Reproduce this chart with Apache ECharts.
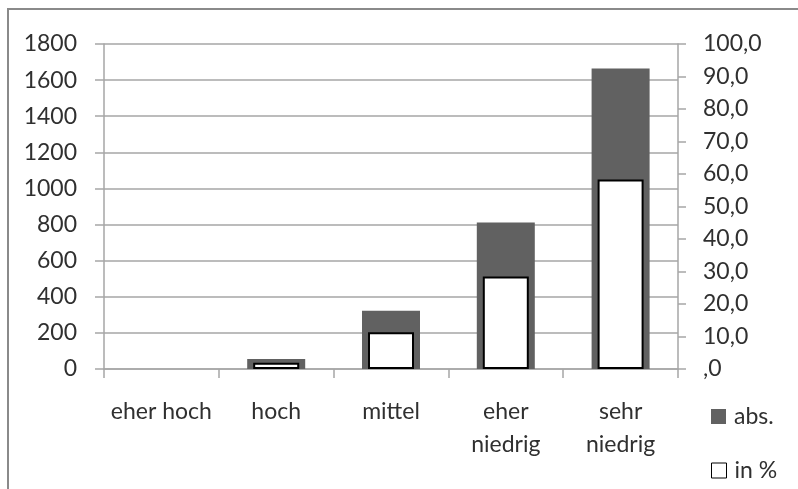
<!DOCTYPE html>
<html>
<head>
<meta charset="utf-8">
<script src="https://cdn.jsdelivr.net/npm/echarts@6/dist/echarts.min.js"></script>
<style>
  html, body { margin: 0; padding: 0; background: #ffffff; }
  #chart { width: 798px; height: 489px; }
</style>
</head>
<body>
<div id="chart"></div>
<script>
// Categories on the x axis
const categories = ['eher hoch', 'hoch', 'mittel', 'eher\nniedrig', 'sehr\nniedrig'];
// Absolute counts (left axis)
const absValues = [0, 55, 323, 812, 1665];
// Share in percent (right axis)
const pctValues = [0, 1.9, 11.3, 28.5, 58.3];
// Series names shown in the legend
const seriesNames = ['abs.', 'in %'];

const FONT = 'Lato';
const FS = 23;
const TEXT = '#303030';
const GRID = '#a6a6a6';

const chart = echarts.init(document.getElementById('chart'), null, { renderer: 'canvas' });

// one legend box per entry, stacked in the right margin
function legendBox(name, top, itemStyle) {
  return {
    orient: 'vertical',
    left: 711,
    top: top,
    padding: 0,
    itemWidth: 15,
    itemHeight: 15,
    icon: 'rect',
    itemGap: 0,
    textStyle: { fontFamily: FONT, fontSize: FS, color: TEXT, lineHeight: 16, padding: [0, 0, 0, 3] },
    data: [{ name: name, itemStyle: itemStyle }]
  };
}

chart.setOption({
  backgroundColor: '#ffffff',
  animation: false,
  textStyle: { fontFamily: FONT },
  graphic: [{
    type: 'rect',
    shape: { x: 8, y: 9, width: 800, height: 500 },
    style: { fill: 'none', stroke: '#8a8a8a', lineWidth: 2 },
    silent: true
  }],
  grid: { left: 104, right: 120, top: 44, bottom: 120, containLabel: false },
  legend: [
    legendBox(seriesNames[0], 405, { color: '#616161', borderWidth: 0 }),
    legendBox(seriesNames[1], 459, { color: '#ffffff', borderColor: '#000000', borderWidth: 1 })
  ],
  xAxis: [{
    type: 'category',
    data: categories,
    boundaryGap: true,
    axisLine: { lineStyle: { color: GRID, width: 1.5 } },
    axisTick: { show: true, length: 9, lineStyle: { color: GRID, width: 1.5 } },
    axisLabel: {
      fontFamily: FONT, fontSize: FS, color: TEXT,
      margin: 26, lineHeight: 33, interval: 0
    }
  }, {
    type: 'category',
    data: categories,
    show: false
  }],
  yAxis: [{
    type: 'value',
    min: 0, max: 1800, interval: 200,
    axisLine: { show: true, lineStyle: { color: GRID, width: 1.5 } },
    axisTick: { show: true, length: 9, lineStyle: { color: GRID, width: 1.5 } },
    splitLine: { show: true, lineStyle: { color: GRID, width: 1.5 } },
    axisLabel: { fontFamily: FONT, fontSize: FS, color: TEXT, margin: 27, formatter: v => String(v) }
  }, {
    type: 'value',
    position: 'right',
    min: 0, max: 100, interval: 10,
    axisLine: { show: true, lineStyle: { color: GRID, width: 1.5 } },
    axisTick: { show: true, length: 8, lineStyle: { color: GRID, width: 1.5 } },
    splitLine: { show: false },
    axisLabel: {
      fontFamily: FONT, fontSize: FS, color: TEXT, margin: 25,
      formatter: v => v === 0 ? ',0' : v.toFixed(1).replace('.', ',')
    }
  }],
  series: [{
    name: seriesNames[0],
    type: 'bar',
    xAxisIndex: 0,
    yAxisIndex: 0,
    barWidth: 58,
    data: absValues,
    itemStyle: { color: '#616161' },
    z: 2
  }, {
    name: seriesNames[1],
    type: 'bar',
    xAxisIndex: 1,
    yAxisIndex: 1,
    barWidth: 46,
    // empty categories get no outline
    data: pctValues.map(v => v === 0 ? { value: v, itemStyle: { borderWidth: 0 } } : v),
    itemStyle: { color: '#ffffff', borderColor: '#000000', borderWidth: 2 },
    z: 3
  }]
});
</script>
</body>
</html>
